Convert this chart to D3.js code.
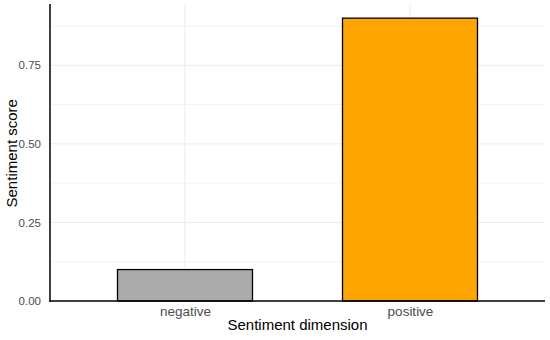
<!DOCTYPE html>
<html>
<head>
<meta charset="utf-8">
<script src="https://cdn.jsdelivr.net/npm/d3@7"></script>
<style>
  body { margin: 0; background: #fff; }
  text { font-family: "Liberation Sans", Arial, sans-serif; }
</style>
</head>
<body>
<svg id="chart"></svg>
<script>
// sentiment bars
var categories = ['negative', 'positive'];
var scores = [0.1, 0.9];
var fills = ['#ababab', '#ffa500'];
var yTicks = [0, 0.25, 0.5, 0.75];
var yMinor = [0.125, 0.375, 0.625, 0.875];

var width = 550, height = 340;
var margin = {left: 50, right: 5, top: 4, bottom: 39};

var svg = d3.select('svg#chart')
  .attr('width', width)
  .attr('height', height);

var x = d3.scalePoint()
  .domain(categories)
  .range([margin.left, width - margin.right])
  .padding(0.6);
var barW = x.step() * 0.6;

var y = d3.scaleLinear()
  .domain([0, d3.max(scores) * 1.05])
  .range([height - margin.bottom, margin.top]);

// grid
svg.append('g').selectAll('line')
  .data(yMinor)
  .enter().append('line')
  .attr('x1', margin.left).attr('x2', width - margin.right)
  .attr('y1', d => y(d)).attr('y2', d => y(d))
  .style('stroke', '#f3f3f3').style('stroke-width', 1);

svg.append('g').selectAll('line')
  .data(yTicks)
  .enter().append('line')
  .attr('x1', margin.left).attr('x2', width - margin.right)
  .attr('y1', d => y(d)).attr('y2', d => y(d))
  .style('stroke', '#ebebeb').style('stroke-width', 1);

svg.append('g').selectAll('line')
  .data(categories)
  .enter().append('line')
  .attr('x1', d => x(d)).attr('x2', d => x(d))
  .attr('y1', margin.top).attr('y2', height - margin.bottom)
  .style('stroke', '#ebebeb').style('stroke-width', 1);

// bars
svg.append('g').selectAll('rect')
  .data(categories)
  .enter().append('rect')
  .attr('x', d => x(d) - barW / 2)
  .attr('width', barW)
  .attr('y', (d, i) => y(scores[i]))
  .attr('height', (d, i) => y(0) - y(scores[i]))
  .style('fill', (d, i) => fills[i])
  .style('stroke', '#000')
  .style('stroke-width', 1.3);

// axes
var yAxis = svg.append('g')
  .attr('transform', 'translate(' + margin.left + ',0)')
  .call(d3.axisLeft(y).tickValues(yTicks).tickFormat(d3.format('.2f')).tickSize(0).tickPadding(9));
yAxis.select('.domain').remove();
yAxis.selectAll('text')
  .style('font-size', '11.5px')
  .style('fill', '#4d4d4d')
  .style('font-family', '"Liberation Sans", Arial, sans-serif');

var xAxis = svg.append('g')
  .attr('transform', 'translate(0,' + (height - margin.bottom) + ')')
  .call(d3.axisBottom(x).tickSize(0).tickPadding(5));
xAxis.select('.domain').remove();
xAxis.selectAll('text')
  .style('font-size', '13.5px')
  .style('fill', '#4d4d4d')
  .style('font-family', '"Liberation Sans", Arial, sans-serif');

svg.append('line')
  .attr('x1', margin.left).attr('x2', margin.left)
  .attr('y1', margin.top).attr('y2', height - margin.bottom + 0.75)
  .style('stroke', '#000').style('stroke-width', 1.5);
svg.append('line')
  .attr('x1', margin.left - 0.75).attr('x2', width - margin.right)
  .attr('y1', height - margin.bottom).attr('y2', height - margin.bottom)
  .style('stroke', '#000').style('stroke-width', 1.5);

// titles
svg.append('text')
  .attr('x', (margin.left + width - margin.right) / 2)
  .attr('y', 330)
  .attr('text-anchor', 'middle')
  .style('font-size', '15px')
  .text('Sentiment dimension');

svg.append('text')
  .attr('transform', 'translate(17,' + y(0.47) + ') rotate(-90)')
  .attr('text-anchor', 'middle')
  .style('font-size', '15px')
  .text('Sentiment score');
</script>
</body>
</html>
